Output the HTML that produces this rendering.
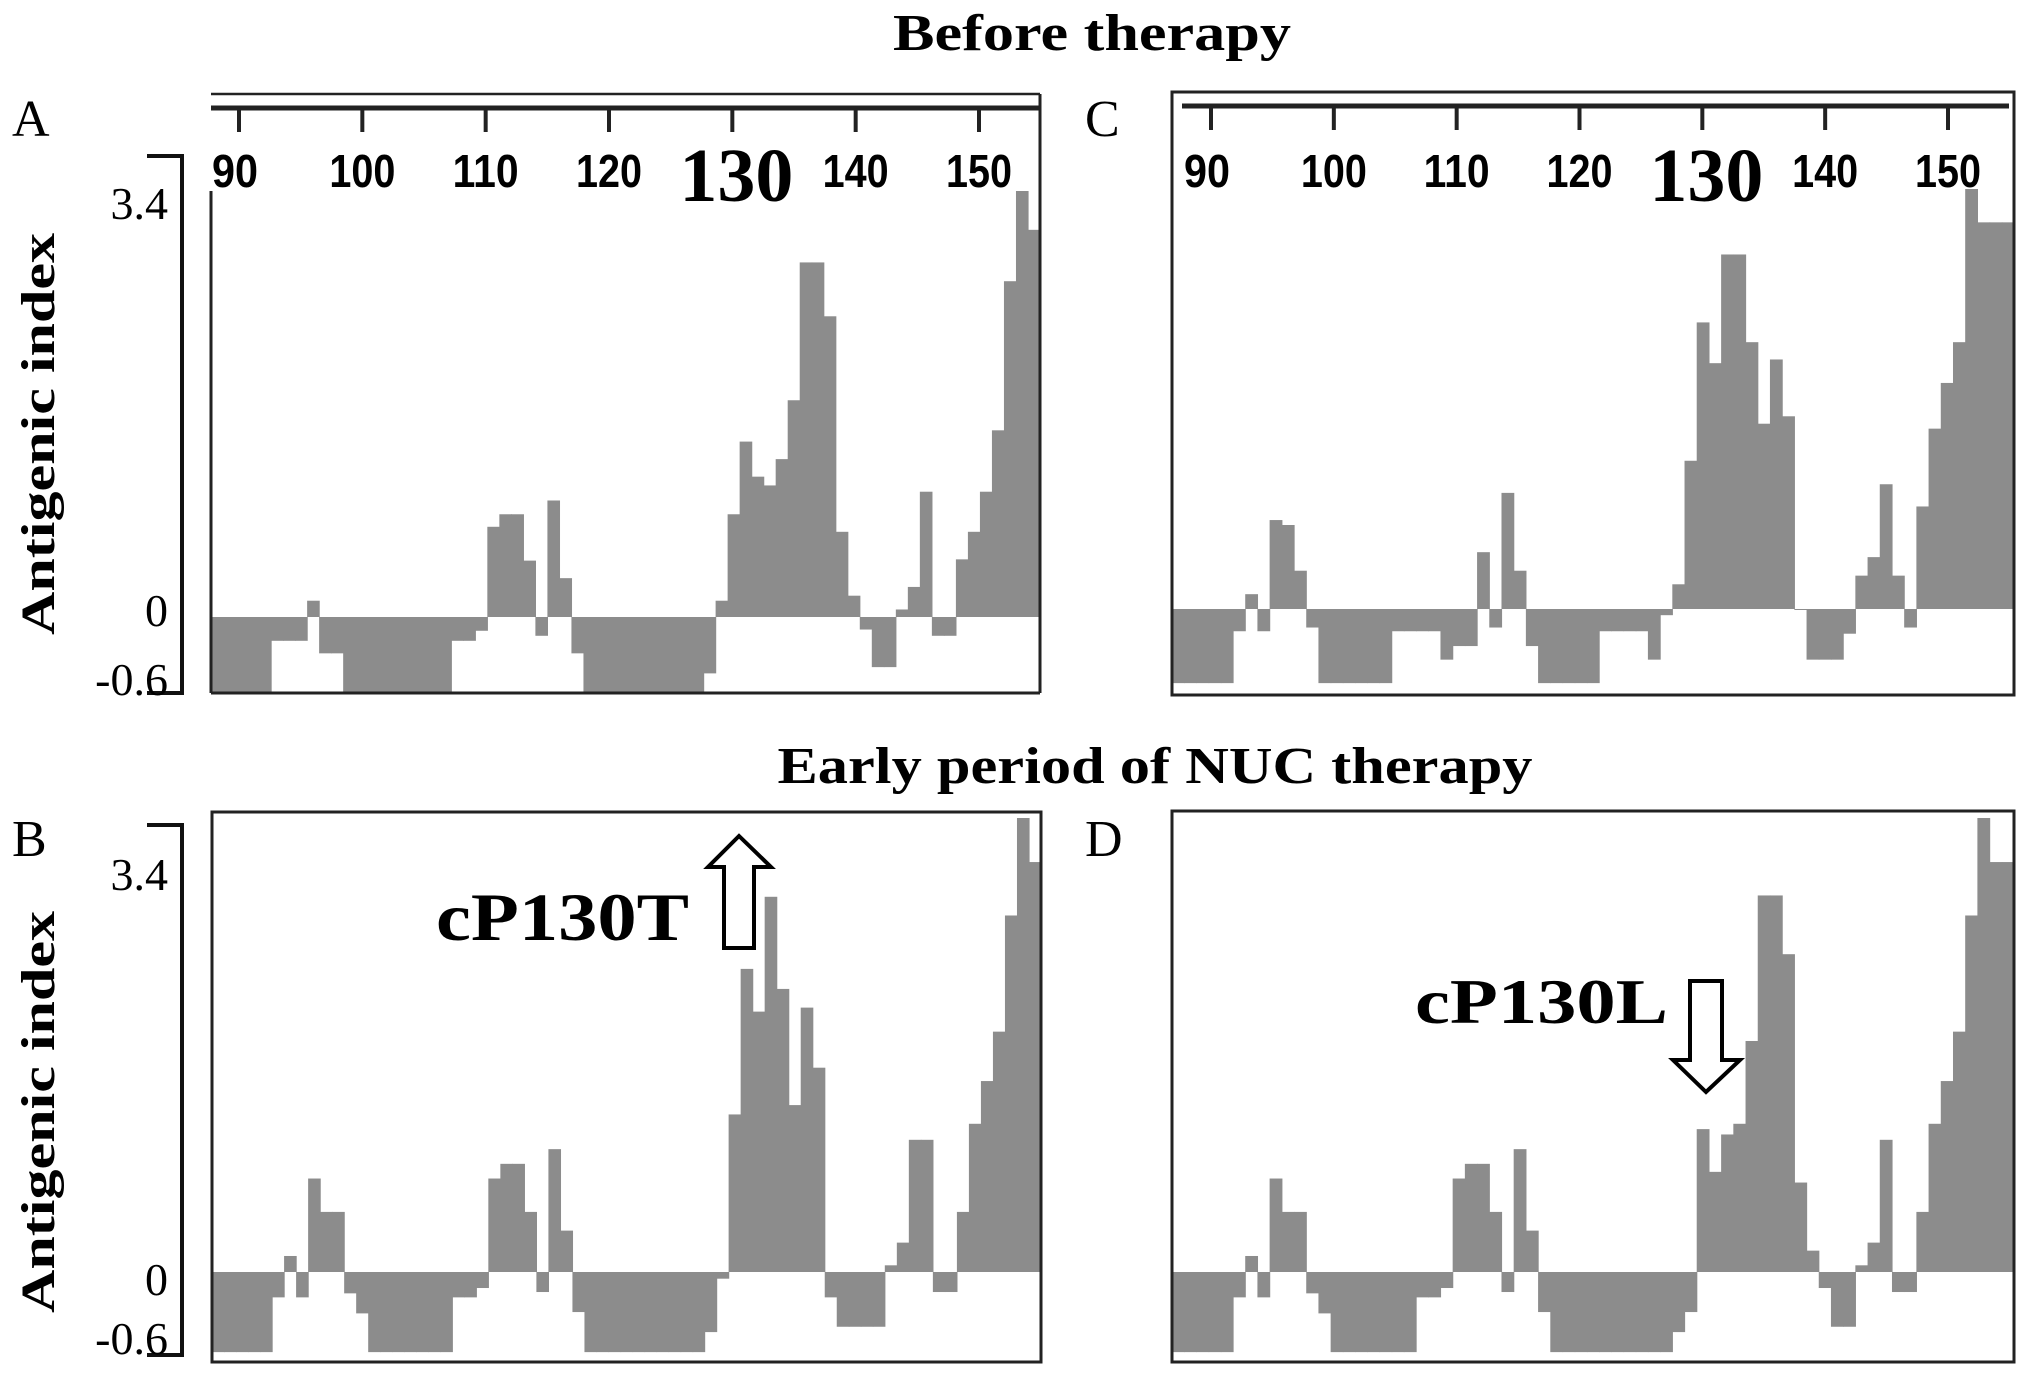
<!DOCTYPE html>
<html><head><meta charset="utf-8"><style>
html,body{margin:0;padding:0;background:#fff;}
svg{display:block;}
.serif{font-family:"Liberation Serif",serif;}
.sans{font-family:"Liberation Sans",sans-serif;}
</style></head><body>
<svg id="fig" width="2031" height="1376" viewBox="0 0 2031 1376" xmlns="http://www.w3.org/2000/svg">
<text class="serif" x="1092" y="50" text-anchor="middle" font-size="52" font-weight="bold" textLength="398" lengthAdjust="spacingAndGlyphs">Before therapy</text>
<text class="serif" x="1155" y="783" text-anchor="middle" font-size="52" font-weight="bold" textLength="755" lengthAdjust="spacingAndGlyphs">Early period of NUC therapy</text>
<text class="serif" x="12" y="136" font-size="52">A</text>
<text class="serif" x="1085" y="136" font-size="52">C</text>
<text class="serif" x="12" y="856" font-size="52">B</text>
<text class="serif" x="1085" y="856" font-size="52">D</text>
<g id="panels"></g>
</svg>
<script>
const residuesStart = 88;
const tickLabels = [90, 100, 110, 120, 130, 140, 150];
const yTickValues = [3.4, 0, -0.6];
const yTickLabels = ["3.4", "0", "-0.6"];
const valuesA = [-0.6,-0.6,-0.6,-0.6,-0.6,-0.19,-0.19,-0.19,0.13,-0.29,-0.29,-0.6,-0.6,-0.6,-0.6,-0.6,-0.6,-0.6,-0.6,-0.6,-0.19,-0.19,-0.11,0.72,0.82,0.82,0.45,-0.15,0.93,0.31,-0.29,-0.6,-0.6,-0.6,-0.6,-0.6,-0.6,-0.6,-0.6,-0.6,-0.6,-0.45,0.13,0.82,1.40,1.12,1.05,1.26,1.73,2.83,2.83,2.40,0.68,0.17,-0.1,-0.4,-0.4,0.06,0.24,1.0,-0.15,-0.15,0.46,0.68,1.0,1.49,2.68,3.4,3.09];
const valuesC = [-0.6,-0.6,-0.6,-0.6,-0.6,-0.18,0.12,-0.18,0.72,0.68,0.31,-0.15,-0.6,-0.6,-0.6,-0.6,-0.6,-0.6,-0.18,-0.18,-0.18,-0.18,-0.41,-0.3,-0.3,0.46,-0.15,0.94,0.31,-0.3,-0.6,-0.6,-0.6,-0.6,-0.6,-0.18,-0.18,-0.18,-0.18,-0.41,-0.05,0.2,1.2,2.32,1.99,2.87,2.87,2.16,1.5,2.02,1.56,0,-0.41,-0.41,-0.41,-0.2,0.27,0.42,1.01,0.27,-0.15,0.83,1.46,1.83,2.16,3.4,3.13,3.13,3.13];
const valuesB = [-0.6,-0.6,-0.6,-0.6,-0.6,-0.19,0.12,-0.19,0.70,0.45,0.45,-0.16,-0.31,-0.6,-0.6,-0.6,-0.6,-0.6,-0.6,-0.6,-0.19,-0.19,-0.12,0.70,0.81,0.81,0.45,-0.15,0.92,0.31,-0.3,-0.6,-0.6,-0.6,-0.6,-0.6,-0.6,-0.6,-0.6,-0.6,-0.6,-0.45,-0.05,1.18,2.27,1.95,2.81,2.12,1.25,1.98,1.53,-0.19,-0.41,-0.41,-0.41,-0.41,0.05,0.22,0.99,0.99,-0.15,-0.15,0.45,1.11,1.43,1.8,2.67,3.4,3.07];
const valuesD = [-0.6,-0.6,-0.6,-0.6,-0.6,-0.19,0.12,-0.19,0.70,0.45,0.45,-0.16,-0.31,-0.6,-0.6,-0.6,-0.6,-0.6,-0.6,-0.6,-0.19,-0.19,-0.12,0.70,0.81,0.81,0.45,-0.15,0.92,0.31,-0.3,-0.6,-0.6,-0.6,-0.6,-0.6,-0.6,-0.6,-0.6,-0.6,-0.6,-0.45,-0.3,1.07,0.75,1.03,1.11,1.73,2.82,2.82,2.38,0.67,0.16,-0.12,-0.41,-0.41,0.05,0.22,0.99,-0.15,-0.15,0.45,1.11,1.43,1.8,2.67,3.4,3.07,3.07];

const NS = "http://www.w3.org/2000/svg";
const root = document.getElementById("panels");
function mk(tag, attrs, parent){
  const e = document.createElementNS(NS, tag);
  for (const k in attrs) e.setAttribute(k, attrs[k]);
  (parent||root).appendChild(e);
  return e;
}
const panels = [
  {id:"a", vals:valuesA, l:211, r:1040, zero:617, top:191, bot:693, ruler:"double", frameTop:94, tick90:239, tick150:979, bracket:true, bTop:156, bBot:693, lblY:[204,611,680], axisTitle:434},
  {id:"c", vals:valuesC, l:1172, r:2014, zero:609, top:189, bot:695, ruler:"single", frameTop:92, tick90:1211, tick150:1948, bracket:false},
  {id:"b", vals:valuesB, l:212, r:1041, zero:1272, top:818, bot:1362, ruler:"none", frameTop:812, bracket:true, bTop:825, bBot:1355, lblY:[875,1280,1339], axisTitle:1112},
  {id:"d", vals:valuesD, l:1172, r:2014, zero:1272, top:818, bot:1362, ruler:"none", frameTop:811, bracket:false}
];
panels.forEach(p => {
  const g = mk("g", {});
  
  
  const n = p.vals.length;
  const bw = (p.r - p.l) / n;
  const unit = (p.zero - p.top) / 3.4;
  const xBar = i => p.l + i * bw;
  const yVal = v => p.zero - v * unit;
  p.vals.forEach((v, i) => {
    const y1 = Math.min(yVal(v), p.zero), y2 = Math.max(yVal(v), p.zero);
    const rc = mk("rect", {x:xBar(i).toFixed(2), y:y1.toFixed(2), width:(bw+0.6).toFixed(2), height:Math.max(y2-y1,1).toFixed(2), fill:"#8c8c8c"}, g);
    
    
  });
  const lw = 3;
  if (p.ruler === "double") {
    mk("line",{x1:p.l,y1:p.frameTop,x2:p.r,y2:p.frameTop,stroke:"#222","stroke-width":2.5},g);
    mk("line",{x1:p.l,y1:108,x2:p.r,y2:108,stroke:"#222","stroke-width":5},g);
    mk("line",{x1:p.l,y1:191,x2:p.l,y2:p.bot,stroke:"#222","stroke-width":lw},g);
    mk("line",{x1:p.r,y1:p.frameTop,x2:p.r,y2:p.bot,stroke:"#222","stroke-width":lw},g);
  } else if (p.ruler === "single") {
    mk("rect",{x:p.l,y:p.frameTop,width:p.r-p.l,height:p.bot-p.frameTop,fill:"none",stroke:"#222","stroke-width":lw},g);
    mk("line",{x1:p.l+10,y1:106,x2:p.r-5,y2:106,stroke:"#222","stroke-width":5},g);
  } else {
    mk("rect",{x:p.l,y:p.frameTop,width:p.r-p.l,height:p.bot-p.frameTop,fill:"none",stroke:"#222","stroke-width":lw},g);
  }
  if (p.ruler !== "none") mk("line",{x1:p.l,y1:p.bot,x2:p.r,y2:p.bot,stroke:"#222","stroke-width":lw},g);
  if (p.tick90) {
    const xs = r => p.tick90 + (r - 90) * (p.tick150 - p.tick90) / 60;
    const rulerY = p.ruler === "double" ? 108 : 106;
    tickLabels.forEach(t => {
      mk("line",{x1:xs(t),y1:rulerY,x2:xs(t),y2:rulerY+24,stroke:"#222","stroke-width":4},g);
      let tx;
      if (t === 130) {
        tx = mk("text",{x:xs(t)+4,y:201,"text-anchor":"middle","font-size":76,"font-weight":"bold",class:"serif"},g);
      } else {
        const wdt = t < 100 ? 46 : 66;
        tx = mk("text",{x:xs(t)-(t<100?4:0),y:187,"text-anchor":"middle","font-size":46,"font-weight":"bold",class:"sans",textLength:wdt,lengthAdjust:"spacingAndGlyphs"},g);
      }
      tx.textContent = String(t);
      
      
    });
  }
  if (p.bracket) {
    mk("polyline",{points:`147,${p.bTop} 182,${p.bTop} 182,${p.bBot} 147,${p.bBot}`,fill:"none",stroke:"#111","stroke-width":4},g);
    yTickValues.forEach((v, i) => {
      const t = mk("text",{x:168,y:p.lblY[i]+15,"text-anchor":"end","font-size":46,class:"serif"},g);
      t.textContent = yTickLabels[i];
      
      
    });
    const at = mk("text",{x:0,y:0,"text-anchor":"middle","font-size":48,"font-weight":"bold",class:"serif",transform:`translate(54 ${p.axisTitle}) rotate(-90)`,textLength:402,lengthAdjust:"spacingAndGlyphs"},g);
    at.textContent = "Antigenic  index";
    
    
  }
});
const ag = mk("g", {});


const t1 = mk("text",{x:436,y:940,"font-size":68,"font-weight":"bold",class:"serif",textLength:253,lengthAdjust:"spacingAndGlyphs"},ag);
t1.textContent = "cP130T";


const a1 = mk("polygon",{points:"724,948 754,948 754,867 771,867 739,836 708,867 724,867",fill:"#fff",stroke:"#000","stroke-width":4},ag);


const t2 = mk("text",{x:1415,y:1023,"font-size":64,"font-weight":"bold",class:"serif",textLength:253,lengthAdjust:"spacingAndGlyphs"},ag);
t2.textContent = "cP130L";


const a2 = mk("polygon",{points:"1690,981 1722,981 1722,1060 1740,1060 1706,1092 1673,1060 1690,1060",fill:"#fff",stroke:"#000","stroke-width":4},ag);


</script>
</body></html>
